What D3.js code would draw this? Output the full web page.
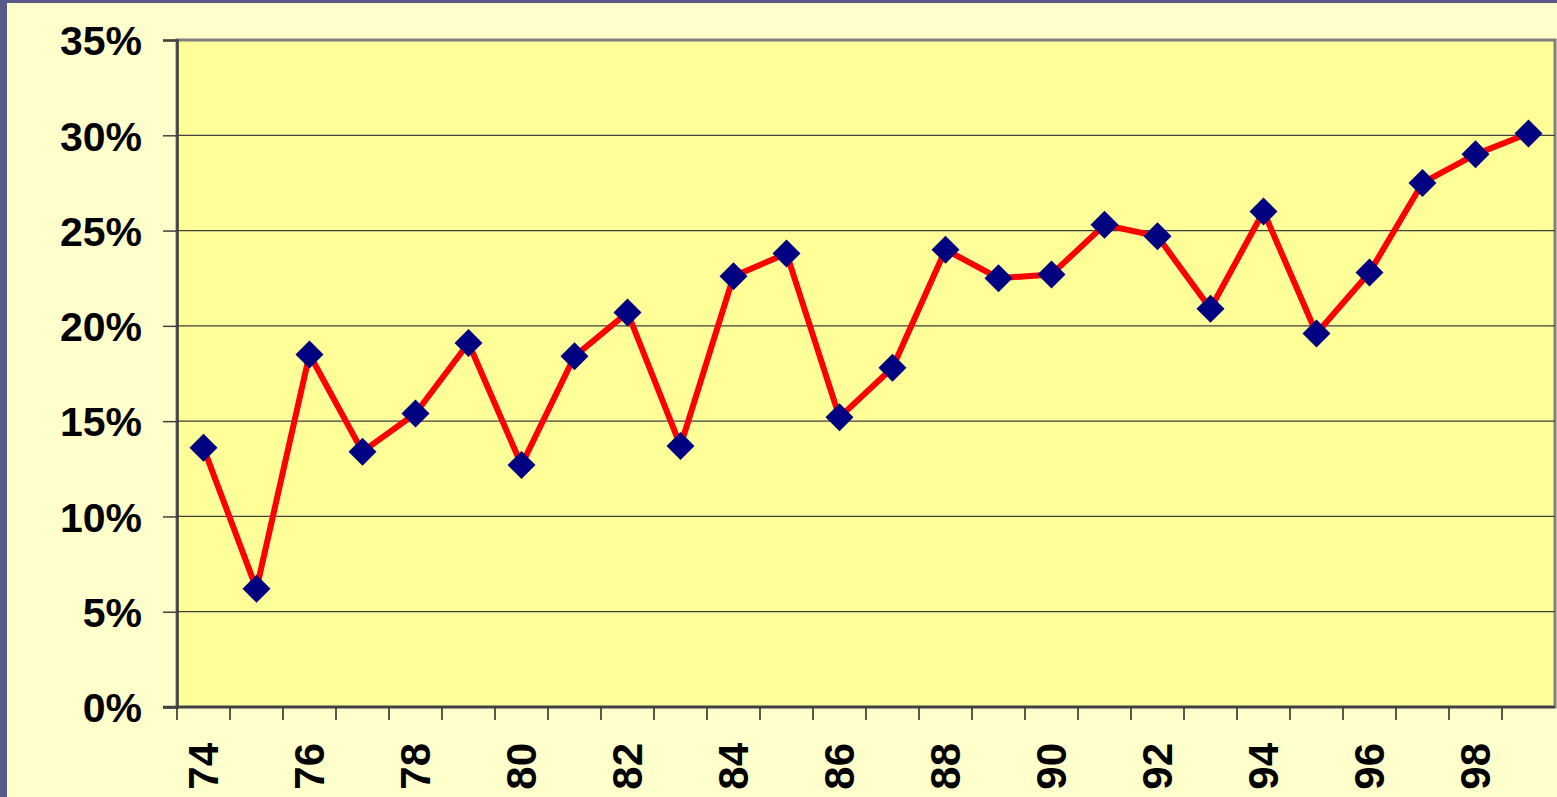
<!DOCTYPE html>
<html><head><meta charset="utf-8">
<script src="https://cdn.jsdelivr.net/npm/d3@7"></script>
<style>html,body{margin:0;padding:0;background:#FFFFCC;}svg{display:block;}</style>
</head><body>
<svg id="chart" width="1557" height="797"></svg>
<script>
const categories = ["74","75","76","77","78","79","80","81","82","83","84","85","86","87","88","89","90","91","92","93","94","95","96","97","98","99"];
const values = [13.6,6.2,18.5,13.4,15.4,19.1,12.7,18.4,20.7,13.7,22.6,23.8,15.2,17.8,24.0,22.5,22.7,25.3,24.7,20.9,26.0,19.6,22.8,27.5,29.0,30.1];
const yTicks = [0,5,10,15,20,25,30,35];
const xLabels = ["74","76","78","80","82","84","86","88","90","92","94","96","98"];

const svg = d3.select("#chart");
const W = 1557, H = 797;
const L = 177, R = 1555, T = 40, B = 707;
const FONT = "Arial, 'Liberation Sans', sans-serif";

svg.append("rect").attr("x",0).attr("y",0).attr("width",W).attr("height",H).attr("fill","#FFFFCC");
svg.append("rect").attr("x",0).attr("y",0).attr("width",W).attr("height",3).attr("fill","#5A5A8A");
svg.append("rect").attr("x",0).attr("y",0).attr("width",7).attr("height",H).attr("fill","#5A5A8A");

const x = d3.scaleBand().domain(categories).range([L,R]).padding(0);
const y = d3.scaleLinear().domain([0,35]).range([B,T]);

svg.append("rect").attr("x",L).attr("y",T).attr("width",R-L).attr("height",B-T)
  .attr("fill","#FFFF99").attr("stroke","#808080").attr("stroke-width",3);

svg.append("g").selectAll("line").data(yTicks.filter(d=>d>0 && d<35)).join("line")
  .attr("x1",L).attr("x2",R).attr("y1",d=>y(d)).attr("y2",d=>y(d))
  .attr("stroke","#404040").attr("stroke-width",1.2);

const yAxis = d3.axisLeft(y).tickValues(yTicks).tickFormat(d=>d+"%").tickSize(14).tickPadding(21);
const gy = svg.append("g").attr("transform",`translate(${L},0)`).call(yAxis);
gy.select(".domain").attr("stroke","#404040").attr("stroke-width",2.5);
gy.selectAll(".tick line").attr("stroke","#404040").attr("stroke-width",1.5);
gy.selectAll("text").attr("font-family",FONT).attr("font-weight","bold")
  .attr("font-size",41).attr("fill","#000").attr("dy","0.36em");

const bounds = categories.map(c=>x(c));
svg.append("g").selectAll("line").data(bounds).join("line")
  .attr("x1",d=>d).attr("x2",d=>d).attr("y1",B).attr("y2",B+13)
  .attr("stroke","#202020").attr("stroke-width",1.5);
svg.append("line").attr("x1",L-14).attr("x2",R).attr("y1",B).attr("y2",B)
  .attr("stroke","#404040").attr("stroke-width",2.5);

svg.append("g").selectAll("text").data(xLabels).join("text")
  .attr("transform",d=>`translate(${x(d)+x.bandwidth()/2+14},743) rotate(-90)`)
  .attr("text-anchor","end")
  .attr("font-family",FONT).attr("font-weight","bold")
  .attr("font-size",42).attr("fill","#000").text(d=>d);

const pts = categories.map((c,i)=>[x(c)+x.bandwidth()/2, y(values[i])]);
svg.append("path").datum(pts).attr("d",d3.line()).attr("fill","none")
  .attr("stroke","#FF0000").attr("stroke-width",6).attr("stroke-linejoin","round");

const s = 14;
svg.append("g").selectAll("path").data(pts).join("path")
  .attr("d",d=>`M${d[0]},${d[1]-s}L${d[0]+s},${d[1]}L${d[0]},${d[1]+s}L${d[0]-s},${d[1]}Z`)
  .attr("fill","#000080");
</script>
</body></html>
